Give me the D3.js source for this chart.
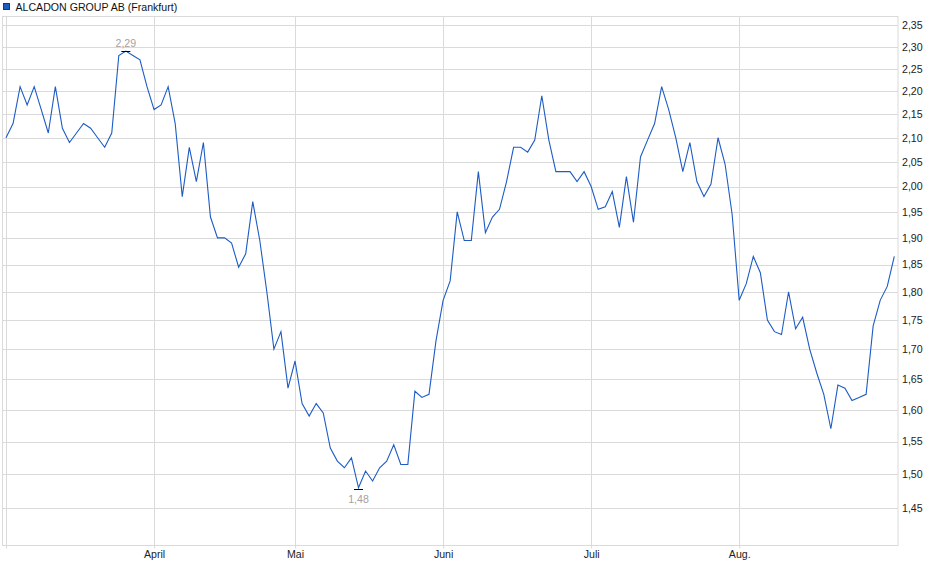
<!DOCTYPE html>
<html>
<head>
<meta charset="utf-8">
<script src="https://cdn.jsdelivr.net/npm/d3@7/dist/d3.min.js"></script>
<style>
  html, body { margin: 0; padding: 0; background: #fff; }
  svg { display: block; font-family: "Liberation Sans", Arial, sans-serif; }
</style>
</head>
<body>
<div id="chart"></div>
<script>
// ---- data (daily closes, Frankfurt) ----
var title = 'ALCADON GROUP AB (Frankfurt)';
var prices = [
  2.10, 2.13, 2.21, 2.17, 2.21, 2.16, 2.11, 2.21, 2.12, 2.09,
  2.11, 2.13, 2.12, 2.10, 2.08, 2.11, 2.28, 2.29, 2.28, 2.27,
  2.21, 2.16, 2.17, 2.21, 2.13, 1.98, 2.08, 2.01, 2.09, 1.94,
  1.90, 1.90, 1.89, 1.845, 1.87, 1.97, 1.895, 1.80, 1.70, 1.73,
  1.635, 1.68, 1.61, 1.59, 1.61, 1.595, 1.54, 1.52, 1.51, 1.525,
  1.48, 1.505, 1.49, 1.51, 1.52, 1.545, 1.515, 1.515, 1.63, 1.62,
  1.625, 1.715, 1.785, 1.82, 1.95, 1.895, 1.895, 2.03, 1.91, 1.94,
  1.955, 2.01, 2.08, 2.08, 2.07, 2.095, 2.19, 2.095, 2.03, 2.03,
  2.03, 2.01, 2.03, 2.00, 1.955, 1.96, 1.99, 1.92, 2.02, 1.93,
  2.06, 2.095, 2.13, 2.21, 2.16, 2.10, 2.03, 2.09, 2.01, 1.98,
  2.005, 2.10, 2.045, 1.945, 1.785, 1.815, 1.865, 1.835, 1.75, 1.73,
  1.725, 1.80, 1.735, 1.755, 1.70, 1.66, 1.625, 1.57, 1.64, 1.635,
  1.615, 1.62, 1.625, 1.74, 1.785, 1.81, 1.865
];
var monthTicks = [0, 21, 41, 62, 83, 104];
var monthLabels = ['', 'April', 'Mai', 'Juni', 'Juli', 'Aug.'];
var priceTicks = [1.45, 1.50, 1.55, 1.60, 1.65, 1.70, 1.75, 1.80, 1.85, 1.90,
                  1.95, 2.00, 2.05, 2.10, 2.15, 2.20, 2.25, 2.30, 2.35];

(function () {
  var W = 940, H = 579;
  var plot = { left: 2.5, right: 898, top: 16, bottom: 545 };
  var lineColor = '#1d5cc4', gridColor = '#dadada';
  var fs = 10.6;
  var comma = function (v) { return d3.format('.2f')(v).replace('.', ','); };

  var svg = d3.select('#chart').append('svg')
    .attr('width', W).attr('height', H);

  var x = d3.scaleLinear().domain([0, prices.length - 1]).range([6, 894.3]);
  var y = d3.scaleLog().domain([1.45, 2.35]).range([508.3, 25.2]);

  // title / legend
  svg.append('rect').attr('x', 3.5).attr('y', 3.5).attr('width', 6).attr('height', 6)
    .attr('fill', '#1d5cc4').attr('stroke', '#0f3a80').attr('stroke-width', 1);
  svg.append('text').attr('x', 15.5).attr('y', 10.5)
    .attr('font-size', fs).attr('fill', '#111').text(title);

  // horizontal grid
  svg.append('g').selectAll('line').data(priceTicks).join('line')
    .attr('x1', plot.left).attr('x2', plot.right)
    .attr('y1', function (d) { return Math.round(y(d)) + 0.5; })
    .attr('y2', function (d) { return Math.round(y(d)) + 0.5; })
    .attr('stroke', gridColor);

  // vertical grid at month starts
  svg.append('g').selectAll('line').data(monthTicks).join('line')
    .attr('x1', function (d) { return Math.round(x(d)) + 0.5; })
    .attr('x2', function (d) { return Math.round(x(d)) + 0.5; })
    .attr('y1', plot.top).attr('y2', plot.bottom)
    .attr('stroke', gridColor);

  // frame
  svg.append('rect')
    .attr('x', plot.left).attr('y', plot.top + 0.5)
    .attr('width', plot.right - plot.left).attr('height', plot.bottom - plot.top)
    .attr('fill', 'none').attr('stroke', gridColor);

  // right price axis
  var yAxis = d3.axisRight(y).tickValues(priceTicks).tickFormat(comma)
    .tickSize(0).tickPadding(4);
  var ya = svg.append('g').attr('transform', 'translate(' + plot.right + ',0)').call(yAxis);
  ya.select('.domain').remove();
  ya.selectAll('text').attr('font-size', fs).attr('fill', '#222')
    .attr('font-family', '"Liberation Sans", Arial, sans-serif');

  // bottom month axis
  var xAxis = d3.axisBottom(x).tickValues(monthTicks)
    .tickFormat(function (d, i) { return monthLabels[i]; })
    .tickSize(3).tickPadding(2);
  var xa = svg.append('g').attr('transform', 'translate(0,' + (plot.bottom + 0.5) + ')').call(xAxis);
  xa.select('.domain').remove();
  xa.selectAll('line').attr('stroke', gridColor);
  xa.selectAll('text').attr('font-size', fs).attr('fill', '#222')
    .attr('font-family', '"Liberation Sans", Arial, sans-serif');

  // price line
  var line = d3.line()
    .x(function (d, i) { return x(i); })
    .y(function (d) { return y(d); });
  svg.append('path').datum(prices)
    .attr('d', line)
    .attr('fill', 'none').attr('stroke', lineColor).attr('stroke-width', 1.1)
    .attr('stroke-linejoin', 'miter');

  // high / low markers
  var hiI = d3.maxIndex(prices), loI = d3.minIndex(prices);
  var marks = [
    { i: hiI, v: prices[hiI], off: 0, ty: -4.5 },
    { i: loI, v: prices[loI], off: 1.5, ty: 13 }
  ];
  var mg = svg.append('g');
  marks.forEach(function (m) {
    var px = x(m.i), py = Math.round(y(m.v) + m.off) + 0.5;
    mg.append('line').attr('x1', px - 4.5).attr('x2', px + 4.5)
      .attr('y1', py).attr('y2', py)
      .attr('stroke', '#000').attr('stroke-width', 1);
    mg.append('text').attr('x', px).attr('y', py + m.ty)
      .attr('text-anchor', 'middle').attr('font-size', fs)
      .attr('fill', '#a89f9f').text(comma(m.v));
  });
})();
</script>
</body>
</html>
